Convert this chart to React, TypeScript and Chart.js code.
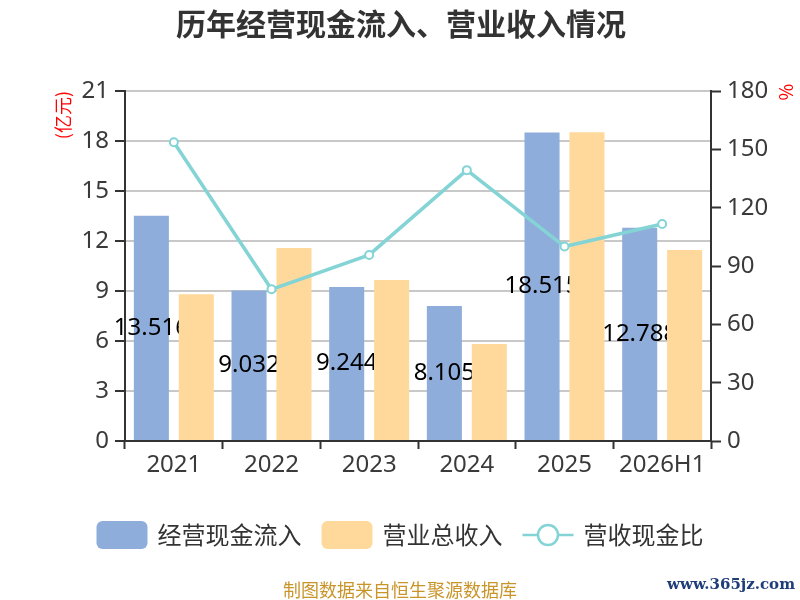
import { useEffect, useRef } from 'react';
import { Chart, registerables } from 'chart.js';

Chart.register(...registerables);

const categories = ['2021', '2022', '2023', '2024', '2025', '2026H1'];
const seriesNames = ['经营现金流入', '营业总收入', '营收现金比'];
// 亿元
const cashInflow = [13.516, 9.032, 9.244, 8.105, 18.515, 12.788];
const revenue = [8.8, 11.58, 9.66, 5.82, 18.52, 11.46];
// %
const cashRatio = [153.6, 78.0, 95.7, 139.3, 100.0, 111.6];

const BLUE = '#8eaddb';
const ORANGE = '#ffd99b';
const TEAL = '#84d4d6';
const TEXT = '#3a3a3a';
const FONT = "'Noto Sans', 'Noto Sans CJK SC', sans-serif";
const CJK = "'Noto Sans CJK SC', sans-serif";

// value labels sit in the middle of the blue bars, hidden behind the orange ones
const valueLabels = {
  id: 'valueLabels',
  beforeDatasetDraw(chart: any, args: any) {
    if (args.index !== 2) return;
    const { ctx } = chart;
    const blue = chart.getDatasetMeta(0);
    const orange = chart.getDatasetMeta(1);
    ctx.save();
    ctx.font = `24px ${FONT}`;
    ctx.fillStyle = '#000';
    ctx.textAlign = 'center';
    ctx.textBaseline = 'middle';
    blue.data.forEach((bar: any, i: number) => {
      const o: any = orange.data[i];
      ctx.save();
      ctx.beginPath();
      ctx.rect(0, 0, o.x - o.width / 2, chart.height);
      ctx.clip();
      ctx.fillText(cashInflow[i].toFixed(3), bar.x, (bar.y + bar.base) / 2);
      ctx.restore();
    });
    ctx.restore();
  },
};

const decorations = {
  id: 'decorations',
  afterDraw(chart: any) {
    const { ctx, chartArea } = chart;
    ctx.save();

    // title
    ctx.font = `bold 30px ${CJK}`;
    ctx.fillStyle = '#333';
    ctx.textAlign = 'center';
    ctx.textBaseline = 'middle';
    ctx.fillText('历年经营现金流入、营业收入情况', 401, 24);

    // right axis unit
    ctx.save();
    ctx.translate(786, chartArea.top + 1);
    ctx.rotate(Math.PI / 2);
    ctx.font = `18px ${CJK}`;
    ctx.fillStyle = '#ff0000';
    ctx.fillText('%', 0, 0);
    ctx.restore();

    // legend
    const legendY = 535;
    const iconW = 51;
    ctx.font = `24px ${CJK}`;
    const widths = seriesNames.map((n) => ctx.measureText(n).width);
    const total = widths.reduce((a, w) => a + iconW + 10 + w, 0) + 2 * 20;
    let x = 400 - total / 2;
    seriesNames.forEach((name, i) => {
      if (i < 2) {
        ctx.fillStyle = i === 0 ? BLUE : ORANGE;
        ctx.beginPath();
        ctx.roundRect(x, legendY - 14, iconW, 28, 6);
        ctx.fill();
      } else {
        ctx.strokeStyle = TEAL;
        ctx.lineWidth = 2.5;
        ctx.beginPath();
        ctx.moveTo(x, legendY);
        ctx.lineTo(x + iconW, legendY);
        ctx.stroke();
        ctx.fillStyle = '#fff';
        ctx.beginPath();
        ctx.arc(x + iconW / 2, legendY, 10, 0, Math.PI * 2);
        ctx.fill();
        ctx.stroke();
      }
      ctx.fillStyle = '#333';
      ctx.textAlign = 'left';
      ctx.fillText(name, x + iconW + 10, legendY);
      x += iconW + 10 + widths[i] + 20;
    });

    // footer
    ctx.font = `18px ${CJK}`;
    ctx.fillStyle = '#c9952b';
    ctx.textAlign = 'center';
    ctx.fillText('制图数据来自恒生聚源数据库', 400, 590);
    ctx.font = "bold 15px 'DejaVu Serif'";
    ctx.fillStyle = '#1f3d7a';
    ctx.textAlign = 'right';
    ctx.fillText('www.365jz.com', 795, 585);
    ctx.restore();
  },
};

const App = () => {
  const chartRef = useRef<HTMLCanvasElement | null>(null);
  const chartInstance = useRef<Chart | null>(null);

  useEffect(() => {
    if (!chartRef.current) return;
    if (chartInstance.current) chartInstance.current.destroy();

    const tickFont = { family: FONT, size: 24 };

    chartInstance.current = new Chart(chartRef.current, {
      type: 'bar',
      data: {
        labels: categories,
        datasets: [
          {
            label: seriesNames[0],
            data: cashInflow,
            backgroundColor: BLUE,
            yAxisID: 'y',
            categoryPercentage: 0.92,
            barPercentage: 0.78,
          },
          {
            label: seriesNames[1],
            data: revenue,
            backgroundColor: ORANGE,
            yAxisID: 'y',
            categoryPercentage: 0.92,
            barPercentage: 0.78,
          },
          {
            type: 'line',
            label: seriesNames[2],
            data: cashRatio,
            yAxisID: 'y1',
            order: -1,
            borderColor: TEAL,
            borderWidth: 3.5,
            pointRadius: 4,
            pointBorderWidth: 2,
            pointBackgroundColor: '#fff',
            pointBorderColor: TEAL,
            tension: 0,
          } as any,
        ],
      },
      options: {
        responsive: false,
        animation: false,
        layout: { padding: { top: 91, left: 0, right: 0, bottom: 0 } },
        plugins: {
          legend: { display: false },
          title: { display: false },
          tooltip: { enabled: false },
        },
        scales: {
          x: {
            afterFit: (scale: any) => {
              scale.height = 159;
            },
            grid: {
              drawOnChartArea: false,
              drawTicks: true,
              tickLength: 8,
              tickColor: '#333',
              tickWidth: 2,
            },
            border: { color: '#333', width: 2 },
            ticks: { color: TEXT, font: tickFont, padding: 2 },
          },
          y: {
            position: 'left',
            min: 0,
            max: 21,
            afterFit: (scale: any) => {
              scale.width = 125;
            },
            grid: {
              color: '#c8c8c8',
              lineWidth: 2,
              tickColor: '#333',
              tickLength: 10,
              tickWidth: 2,
            },
            border: { color: '#333', width: 2 },
            ticks: { stepSize: 3, color: TEXT, font: tickFont, padding: 6 },
            title: {
              display: true,
              text: '(亿元)',
              color: '#ff0000',
              align: 'end',
              font: { family: CJK, size: 18 },
              padding: { top: 52, bottom: 0 },
            },
          },
          y1: {
            position: 'right',
            min: 0,
            max: 180,
            afterFit: (scale: any) => {
              scale.width = 89;
            },
            grid: {
              drawOnChartArea: false,
              tickColor: '#333',
              tickLength: 10,
              tickWidth: 2,
            },
            border: { color: '#333', width: 2 },
            ticks: { stepSize: 30, color: TEXT, font: tickFont, padding: 6 },
          },
        },
      },
      plugins: [valueLabels, decorations],
    });

    return () => {
      if (chartInstance.current) {
        chartInstance.current.destroy();
        chartInstance.current = null;
      }
    };
  }, []);

  return (
    <div style={{ position: 'absolute', left: 0, top: 0, width: 800, height: 600, background: '#fff' }}>
      <canvas ref={chartRef} width={800} height={600} style={{ display: 'block' }} />
    </div>
  );
};

export default App;
